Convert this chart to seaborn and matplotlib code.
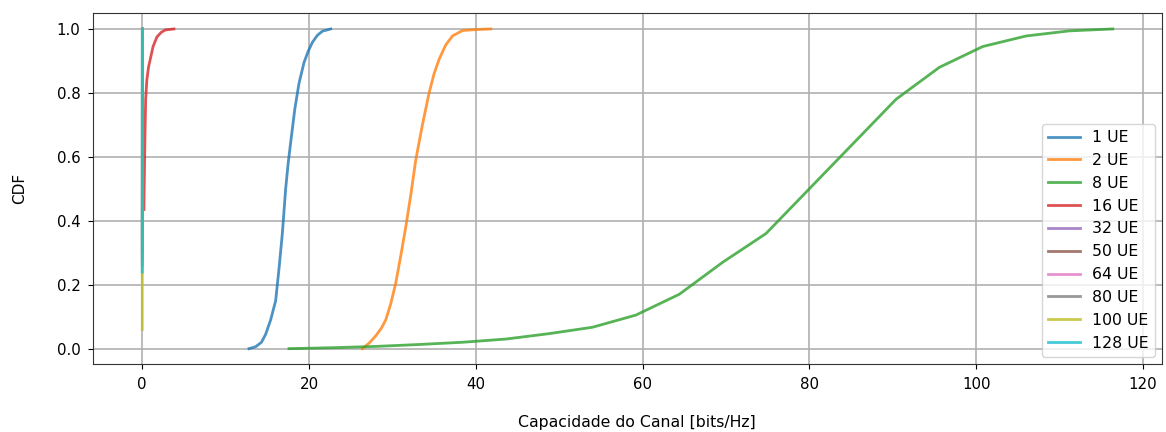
import numpy as np
import pandas as pd
import matplotlib
matplotlib.use("Agg")
import matplotlib.pyplot as plt
import seaborn as sns

# ---- data ----
labels = ["1 UE", "2 UE", "8 UE", "16 UE", "32 UE", "50 UE", "64 UE", "80 UE", "100 UE", "128 UE"]

x_1ue = [12.8, 13.6, 14.3, 14.8, 15.4, 16.0, 16.4, 16.8, 17.2, 17.5, 17.8, 18.3, 18.8, 19.4, 19.9, 20.4, 21.0, 21.6, 22.6]
y_1ue = [0.0, 0.006, 0.02, 0.045, 0.09, 0.15, 0.25, 0.36, 0.50, 0.58, 0.645, 0.75, 0.83, 0.895, 0.93, 0.958, 0.98, 0.993, 1.0]

x_2ue = [26.4, 27.2, 28.0, 28.7, 29.2, 29.8, 30.4, 31.0, 31.6, 32.2, 32.8, 33.6, 34.4, 35.0, 35.6, 36.4, 37.2, 38.4, 40.0, 41.8]
y_2ue = [0.0, 0.017, 0.04, 0.065, 0.09, 0.14, 0.205, 0.29, 0.38, 0.48, 0.59, 0.70, 0.80, 0.86, 0.905, 0.95, 0.978, 0.995, 0.998, 1.0]

x_8ue = [17.6, 22.8, 28.0, 33.2, 38.4, 43.6, 48.8, 54.0, 59.2, 64.4, 69.6, 74.8, 80.0, 85.2, 90.4, 95.6, 100.8, 106.0, 111.2, 116.4]
y_8ue = [0.0, 0.003, 0.007, 0.013, 0.02, 0.03, 0.047, 0.067, 0.105, 0.17, 0.27, 0.36, 0.50, 0.64, 0.78, 0.88, 0.945, 0.978, 0.994, 1.0]

x_16ue = [0.2, 0.26, 0.33, 0.41, 0.55, 0.75, 1.0, 1.3, 1.76, 2.3, 2.8, 3.8]
y_16ue = [0.435, 0.55, 0.67, 0.78, 0.84, 0.88, 0.91, 0.945, 0.975, 0.99, 0.997, 1.0]

x_32ue = [0.01, 0.02, 0.03, 0.04]
y_32ue = [0.35, 0.6, 0.9, 1.0]

x_50ue = [0.01, 0.015, 0.02, 0.03]
y_50ue = [0.30, 0.6, 0.9, 1.0]

x_64ue = [0.005, 0.01, 0.015, 0.02]
y_64ue = [0.28, 0.6, 0.9, 1.0]

x_80ue = [0.005, 0.008, 0.012, 0.015]
y_80ue = [0.26, 0.6, 0.9, 1.0]

x_100ue = [0.0, 0.002, 0.005, 0.01]
y_100ue = [0.06, 0.24, 0.8, 1.0]

x_128ue = [0.0, 0.003, 0.006, 0.01]
y_128ue = [0.24, 0.6, 0.9, 1.0]

series_x = [x_1ue, x_2ue, x_8ue, x_16ue, x_32ue, x_50ue, x_64ue, x_80ue, x_100ue, x_128ue]
series_y = [y_1ue, y_2ue, y_8ue, y_16ue, y_32ue, y_50ue, y_64ue, y_80ue, y_100ue, y_128ue]

frames = []
for lab, xs, ys in zip(labels, series_x, series_y):
    frames.append(pd.DataFrame({"x": xs, "y": ys, "UE": lab}))
df = pd.concat(frames, ignore_index=True)

# ---- plot ----
plt.rcParams["font.family"] = ["DejaVu Sans"]
fig = plt.figure(figsize=(11.66, 4.32), dpi=100)
ax = fig.add_axes([0.0798, 0.1574, 0.9168, 0.8126])

palette = sns.color_palette("tab10", 10)
sns.lineplot(data=df, x="x", y="y", hue="UE", hue_order=labels, palette=palette,
             estimator=None, sort=False, linewidth=2, alpha=0.8, ax=ax)

ax.grid(True, color="#b0b0b0", linewidth=1.2)
ax.set_xlabel("Capacidade do Canal [bits/Hz]", fontsize=11.3, labelpad=15)
ax.set_ylabel("CDF", fontsize=11, labelpad=21)
ax.xaxis.set_label_coords(0.509, -0.145)
ax.set_xticks([0, 20, 40, 60, 80, 100, 120])
ax.set_yticks([0.0, 0.2, 0.4, 0.6, 0.8, 1.0])
ax.set_xlim(-5.9, 122.3)
ax.set_ylim(-0.048, 1.05)
ax.tick_params(labelsize=10.8, pad=5.5)
for s in ax.spines.values():
    s.set_color("#333333")

leg = ax.legend(loc="lower right", fontsize=11.3, title=None, borderaxespad=0.45)
for line in leg.get_lines():
    line.set_linewidth(2)

fig.savefig("out.png", dpi=100)
